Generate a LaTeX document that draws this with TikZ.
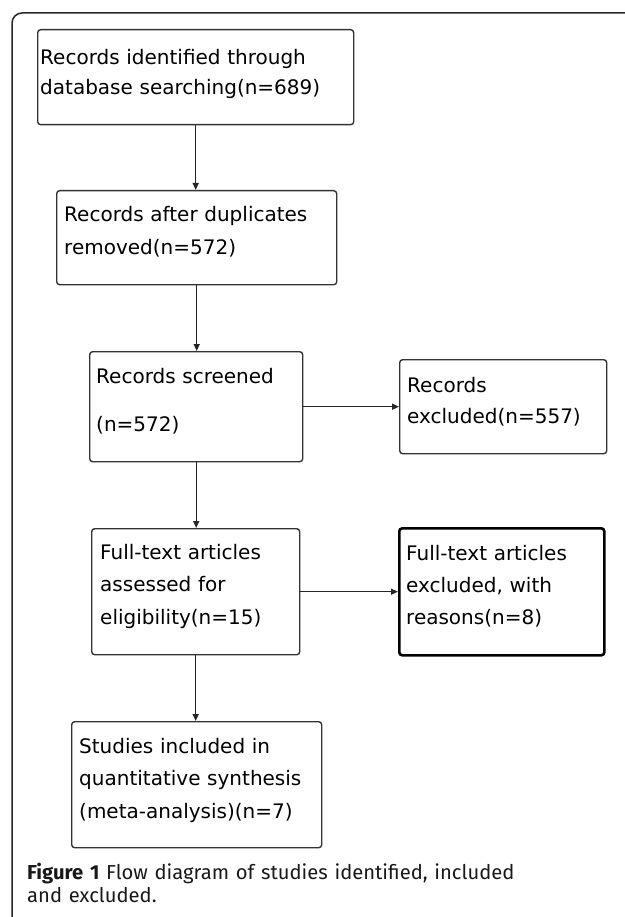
\documentclass[tikz,border=0pt]{standalone}
\usepackage{fontspec}
\setmainfont{DejaVu Sans}
\newfontfamily\capfont{Fira Sans}
\usetikzlibrary{arrows.meta}
\begin{document}
\begin{tikzpicture}[x=1pt,y=-1pt,
  box/.style={draw=black!80, line width=1.4pt, rounded corners=3pt, inner sep=0pt, anchor=north west},
  thickbox/.style={box, draw=black, line width=2.6pt},
  txt/.style={anchor=base west, inner sep=0pt, align=left, text width=300pt, font=\fontsize{20}{32.5}\selectfont},
  arr/.style={draw=black!85, line width=1.4pt, -{Triangle[length=7pt,width=6pt]}},
  frame/.style={draw=black!85, line width=1.5pt, rounded corners=10pt}
]
\useasboundingbox (0,0) rectangle (624,917);
\draw[frame] (12,918) -- (12,13) -- (625,13);

\node[box, minimum width=316pt, minimum height=95pt] (b1) at (37,29) {};
\node[box, minimum width=280pt, minimum height=94pt] (b2) at (56,190) {};
\node[box, minimum width=213pt, minimum height=110pt] (b3) at (89,351) {};
\node[box, minimum width=207pt, minimum height=94pt] (b4) at (399,359) {};
\node[box, minimum width=208pt, minimum height=126pt] (b5) at (91,528) {};
\node[thickbox, minimum width=205pt, minimum height=127pt] (b6) at (398,527) {};
\node[box, minimum width=250pt, minimum height=126pt] (b7) at (71,721) {};

\node[txt, font=\fontsize{20}{30}\selectfont] (t1) at (40,65) {Records identified through\\database searching(n=689)};
\node[txt] (t2) at (64,222) {Records after duplicates\\removed(n=572)};
\node[txt] (t3) at (96,383) {Records screened\\[16pt](n=572)};
\node[txt, font=\fontsize{20}{31}\selectfont] (t4) at (407,392) {Records\\excluded(n=557)};
\node[txt] (t5) at (100,559) {Full-text articles\\assessed for\\eligibility(n=15)};
\node[txt, font=\fontsize{20}{32}\selectfont] (t6) at (406,560) {Full-text articles\\excluded, with\\reasons(n=8)};
\node[txt] (t7) at (79,753) {Studies included in\\quantitative synthesis\\(meta-analysis)(n=7)};

\draw[arr] (b1.south) -- (b1.south |- b2.north);
\draw[arr] (b2.south) -- (b2.south |- b3.north);
\draw[arr] (b3.south) -- (b3.south |- b5.north);
\draw[arr] (b5.south) -- (b5.south |- b7.north);
\draw[arr] (b3.east) -- (b3.east -| b4.west);
\draw[arr] (b5.east) -- (b5.east -| b6.west);

\node[anchor=base west, inner sep=0pt, align=left, text width=600pt, text=black!90,
  font=\capfont\fontsize{20.2}{23}\selectfont] (cap) at (27,879)
  {\textbf{Figure 1} Flow diagram of studies identified, included\\and excluded.};
\end{tikzpicture}
\end{document}
